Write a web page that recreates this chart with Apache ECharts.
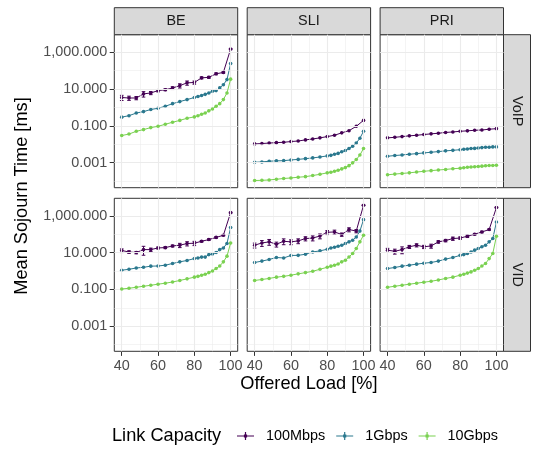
<!DOCTYPE html>
<html>
<head>
<meta charset="utf-8">
<script src="https://cdn.jsdelivr.net/npm/echarts@6/dist/echarts.min.js"></script>
<style>
html, body { margin: 0; padding: 0; background: #fff; }
#chart { width: 536px; height: 449px; }
</style>
</head>
<body>
<div id="chart"></div>
<script>
const capacities = ['100Mbps', '1Gbps', '10Gbps']
const classes = ['BE', 'SLI', 'PRI']
const flows = ['VoIP', 'VID']
const colors = ['#440154', '#2A788E', '#7AD151']

// tick positions
const xMajor = [40, 60, 80, 100]
const xMinor = [50, 70, 90]
const yMajor = [0.001, 0.1, 10, 1000]
const yMinor = [0.0001, 0.01, 1, 100]

// offered load [%]
const load100M = [40, 44, 48, 52, 56, 60, 64, 68, 72, 76, 80, 84, 88, 92, 96, 100]
const loadFine = [40, 44, 48, 52, 56, 60, 64, 68, 72, 76, 80, 82, 84, 86, 88, 90, 92, 94, 96, 98, 100]

// mean sojourn time [ms], VoIP
const beVoip100M = [3.5, 3.3, 3.3, 5.5, 6.2, 8.3, 9.3, 11.5, 15.5, 22, 23, 41, 44, 68, 81, 1500]
const beVoip100MErr = [1.1, 0.85, 0.66, 1.8, 1.2, 1.2, 1.1, 2, 4, 5.7, 4.6, 5, 5.3, 8, 8, 100]
const beVoip1G = [0.30, 0.36, 0.50, 0.60, 0.78, 0.91, 1.17, 1.62, 2.1, 2.7, 3.5, 4.0, 4.5, 5.2, 6.2, 7.6, 8.3, 11.7, 17.4, 33, 245]
const beVoip10G = [0.030, 0.036, 0.051, 0.063, 0.081, 0.095, 0.123, 0.158, 0.20, 0.26, 0.31, 0.36, 0.43, 0.50, 0.66, 0.83, 1.17, 1.62, 2.7, 6.2, 35]

const sliVoip100M = [0.0105, 0.011, 0.0117, 0.0123, 0.0129, 0.0141, 0.0151, 0.0174, 0.0195, 0.0224, 0.0263, 0.031, 0.042, 0.055, 0.095, 0.20]
const sliVoip1G = [0.00105, 0.0011, 0.0012, 0.00126, 0.00129, 0.00141, 0.00151, 0.00166, 0.00182, 0.00204, 0.00234, 0.0025, 0.0029, 0.0032, 0.0039, 0.0046, 0.0059, 0.0078, 0.0117, 0.0214, 0.051]
const sliVoip10G = [1.07e-4, 1.10e-4, 1.15e-4, 1.26e-4, 1.38e-4, 1.48e-4, 1.62e-4, 1.74e-4, 2.0e-4, 2.34e-4, 2.8e-4, 3.0e-4, 3.4e-4, 3.9e-4, 4.6e-4, 5.4e-4, 6.9e-4, 9.8e-4, 1.48e-3, 2.6e-3, 5.9e-3]

const priVoip100M = [0.0224, 0.024, 0.0263, 0.0288, 0.031, 0.034, 0.037, 0.040, 0.044, 0.047, 0.051, 0.054, 0.058, 0.060, 0.066, 0.071]
const priVoip1G = [0.00224, 0.00245, 0.00263, 0.00288, 0.0031, 0.0034, 0.0037, 0.0040, 0.0044, 0.0047, 0.0051, 0.0054, 0.0056, 0.0059, 0.0060, 0.0063, 0.0066, 0.0069, 0.0069, 0.0072, 0.0072]
const priVoip10G = [2.2e-4, 2.4e-4, 2.6e-4, 2.8e-4, 3.1e-4, 3.4e-4, 3.7e-4, 4.0e-4, 4.3e-4, 4.7e-4, 5.0e-4, 5.3e-4, 5.6e-4, 5.8e-4, 6.0e-4, 6.2e-4, 6.5e-4, 6.8e-4, 7.0e-4, 7.1e-4, 7.3e-4]

// mean sojourn time [ms], VID
const beVid100M = [13.2, 11, 10.2, 14.8, 14.8, 18.2, 19, 23.4, 25.7, 31.6, 33, 42, 52, 68, 89, 1510]
const beVid100MErr = [3, 1.7, 1.5, 7.5, 3, 2.2, 2.3, 2.8, 6.7, 8.2, 8.6, 4.2, 5.2, 7, 7, 75]
const beVid1G = [1.12, 1.26, 1.48, 1.62, 1.86, 1.9, 2.1, 2.6, 3.2, 3.8, 4.8, 5.2, 5.8, 5.8, 7.9, 8.5, 10.2, 14.8, 18.2, 32, 234]
const beVid10G = [0.107, 0.117, 0.132, 0.151, 0.17, 0.195, 0.22, 0.257, 0.31, 0.38, 0.47, 0.52, 0.60, 0.68, 0.83, 1.02, 1.38, 1.9, 3.2, 6.5, 34]

const sliVid100M = [25.7, 34, 39, 29, 42, 39, 44, 59, 63, 81, 129, 135, 98, 182, 151, 3800]
const sliVid100MErr = [7.7, 12, 13.6, 8.7, 14.7, 11.7, 13, 15, 19, 24, 32, 34, 20, 45, 30, 190]
const sliVid1G = [2.95, 3.5, 4.3, 5.5, 5.2, 7.1, 7.2, 8.3, 11, 12.6, 15.5, 18.2, 20, 22.4, 25.7, 31.6, 39, 48, 72, 150, 630]
const sliVid10G = [0.31, 0.35, 0.40, 0.47, 0.52, 0.60, 0.71, 0.83, 0.98, 1.26, 1.62, 1.86, 2.1, 2.45, 3.2, 3.9, 5.9, 9.1, 17, 39, 89]

const priVid100M = [13.8, 12, 14.8, 21, 25.7, 21, 23.4, 39, 46, 59, 63, 79, 102, 135, 182, 2880]
const priVid100MErr = [3.5, 3.6, 6, 4, 5, 4.2, 5.8, 6, 7, 12, 9.5, 12, 10, 13.5, 15, 140]
const priVid1G = [1.38, 1.58, 1.86, 2.1, 2.4, 2.7, 2.95, 3.5, 4.5, 5.5, 7.2, 7.9, 9.1, 11, 13.8, 17, 21, 25.7, 39, 59, 468]
const priVid10G = [0.132, 0.151, 0.17, 0.195, 0.22, 0.25, 0.28, 0.33, 0.40, 0.47, 0.60, 0.68, 0.78, 0.91, 1.12, 1.38, 1.9, 2.6, 4.8, 9.1, 79]

// [flow][class] -> [100M, 1G, 10G, 100M error]
const panels = [
    [[beVoip100M, beVoip1G, beVoip10G, beVoip100MErr], [sliVoip100M, sliVoip1G, sliVoip10G, null], [priVoip100M, priVoip1G, priVoip10G, null]],
    [[beVid100M, beVid1G, beVid10G, beVid100MErr], [sliVid100M, sliVid1G, sliVid10G, sliVid100MErr], [priVid100M, priVid1G, priVid10G, priVid100MErr]]
]

// layout
const font = 'Liberation Sans, Arial, sans-serif'
const colLeft = [114.3, 247.2, 380.1]
const panelW = 123.4
const rowTop = [34.7, 198.3]
const panelH = 153
const stripSize = 27
const xMin = 35.9, xMax = 103.9
const yMin = -4.36, yMax = 3.96
const tickFont = 14.4
const titleFont = 18.2

const lg = v => Math.log10(v)
const fmtY = v => Number(Math.pow(10, v).toFixed(3)).toLocaleString('en-US', { minimumFractionDigits: 3, maximumFractionDigits: 3 })

const major = { color: '#EBEBEB', width: 1.1, type: 'solid' }
const minor = { color: '#EBEBEB', width: 0.55, type: 'solid' }
const gridLines = [
    ...xMajor.map(v => ({ xAxis: v, lineStyle: major })),
    ...xMinor.map(v => ({ xAxis: v, lineStyle: minor })),
    ...yMajor.map(v => ({ yAxis: lg(v), lineStyle: major })),
    ...yMinor.map(v => ({ yAxis: lg(v), lineStyle: minor }))
]

const grids = [], xAxes = [], yAxes = [], series = []

flows.forEach((flow, r) => {
    classes.forEach((cls, c) => {
        const p = grids.length
        const bottom = r === flows.length - 1
        const left = c === 0
        grids.push({
            left: colLeft[c], top: rowTop[r], width: panelW, height: panelH,
            show: true, backgroundColor: '#fff', borderColor: '#333', borderWidth: 1
        })
        xAxes.push({
            gridIndex: p, type: 'value', min: xMin, max: xMax, position: 'bottom',
            axisLine: { show: false, onZero: false },
            axisTick: { show: bottom, length: 4.6, customValues: xMajor, lineStyle: { color: '#333' } },
            axisLabel: { show: bottom, customValues: xMajor, margin: 8, color: '#4D4D4D', fontSize: tickFont, fontFamily: font },
            splitLine: { show: false }
        })
        yAxes.push({
            gridIndex: p, type: 'value', min: yMin, max: yMax, position: 'left',
            axisLine: { show: false, onZero: false },
            axisTick: { show: left, length: 4.6, customValues: yMajor.map(lg), lineStyle: { color: '#333' } },
            axisLabel: { show: left, customValues: yMajor.map(lg), margin: 7, formatter: fmtY, color: '#4D4D4D', fontSize: tickFont, fontFamily: font },
            splitLine: { show: false }
        })

        // panel grid lines
        series.push({
            type: 'line', name: 'grid', xAxisIndex: p, yAxisIndex: p, data: [], z: 1, silent: true,
            markLine: { silent: true, symbol: 'none', animation: false, label: { show: false }, emphasis: { disabled: true }, data: gridLines }
        })

        const vals = panels[r][c]
        capacities.forEach((cap, k) => {
            const loads = k === 0 ? load100M : loadFine
            series.push({
                type: 'line', name: cap, xAxisIndex: p, yAxisIndex: p,
                data: loads.map((x, i) => [x, lg(vals[k][i])]),
                symbol: 'circle', symbolSize: 3.6, showSymbol: true,
                itemStyle: { color: colors[k] },
                lineStyle: { color: colors[k], width: 1 },
                z: 3 + k, silent: true
            })
        })
        const err = vals[3]
        if (err) {
            series.push({
                type: 'custom', name: 'err', xAxisIndex: p, yAxisIndex: p, silent: true, z: 3,
                data: load100M.map((x, i) => [x, lg(vals[0][i] - err[i]), lg(vals[0][i] + err[i])]),
                encode: { x: 0, y: [1, 2] },
                renderItem: (params, api) => {
                    const lo = api.coord([api.value(0), api.value(1)])
                    const hi = api.coord([api.value(0), api.value(2)])
                    const st = { stroke: colors[0], lineWidth: 1 }
                    return {
                        type: 'group', children: [
                            { type: 'line', shape: { x1: lo[0], y1: lo[1], x2: hi[0], y2: hi[1] }, style: st },
                            { type: 'line', shape: { x1: lo[0] - 1.8, y1: lo[1], x2: lo[0] + 1.8, y2: lo[1] }, style: st },
                            { type: 'line', shape: { x1: hi[0] - 1.8, y1: hi[1], x2: hi[0] + 1.8, y2: hi[1] }, style: st }
                        ]
                    }
                }
            })
        }
    })
})

// facet strips and titles
const graphics = []
classes.forEach((cls, c) => {
    graphics.push({
        type: 'rect', shape: { x: colLeft[c], y: rowTop[0] - stripSize, width: panelW, height: stripSize },
        style: { fill: '#D9D9D9', stroke: '#333', lineWidth: 1 }
    }, {
        type: 'text', x: colLeft[c] + panelW / 2, y: rowTop[0] - stripSize / 2,
        style: { text: cls, fill: '#1A1A1A', font: tickFont + 'px ' + font, align: 'center', verticalAlign: 'middle' }
    })
})
const stripX = colLeft[2] + panelW
flows.forEach((flow, r) => {
    graphics.push({
        type: 'rect', shape: { x: stripX, y: rowTop[r], width: stripSize, height: panelH },
        style: { fill: '#D9D9D9', stroke: '#333', lineWidth: 1 }
    }, {
        type: 'text', x: stripX + stripSize / 2, y: rowTop[r] + panelH / 2, rotation: -Math.PI / 2,
        style: { text: flow, fill: '#1A1A1A', font: tickFont + 'px ' + font, align: 'center', verticalAlign: 'middle' }
    })
})
graphics.push({
    type: 'text', x: 22, y: 196, rotation: Math.PI / 2,
    style: { text: 'Mean Sojourn Time [ms]', fill: '#000', font: titleFont + 'px ' + font, align: 'center', verticalAlign: 'middle' }
}, {
    type: 'text', x: (colLeft[0] + colLeft[2] + panelW) / 2, y: 384,
    style: { text: 'Offered Load [%]', fill: '#000', font: titleFont + 'px ' + font, align: 'center', verticalAlign: 'middle' }
}, {
    type: 'text', x: 112, y: 436,
    style: { text: 'Link Capacity', fill: '#000', font: titleFont + 'px ' + font, align: 'left', verticalAlign: 'middle' }
})

const chart = echarts.init(document.getElementById('chart'), null, { renderer: 'canvas' })
chart.setOption({
    animation: false,
    backgroundColor: '#fff',
    grid: grids,
    xAxis: xAxes,
    yAxis: yAxes,
    series: series,
    legend: {
        data: capacities, left: 232, top: 424, itemWidth: 17, itemHeight: 10, itemGap: 11,
        icon: 'path://M0,4.5H17V5.5H0Z M7.9,1H9.1V9H7.9Z M6.9,3.4H10.1V6.6H6.9Z',
        textStyle: { color: '#000', fontSize: tickFont, fontFamily: font, padding: [0, 0, 0, 7] },
        selectedMode: false
    },
    graphic: graphics
})
</script>
</body>
</html>
